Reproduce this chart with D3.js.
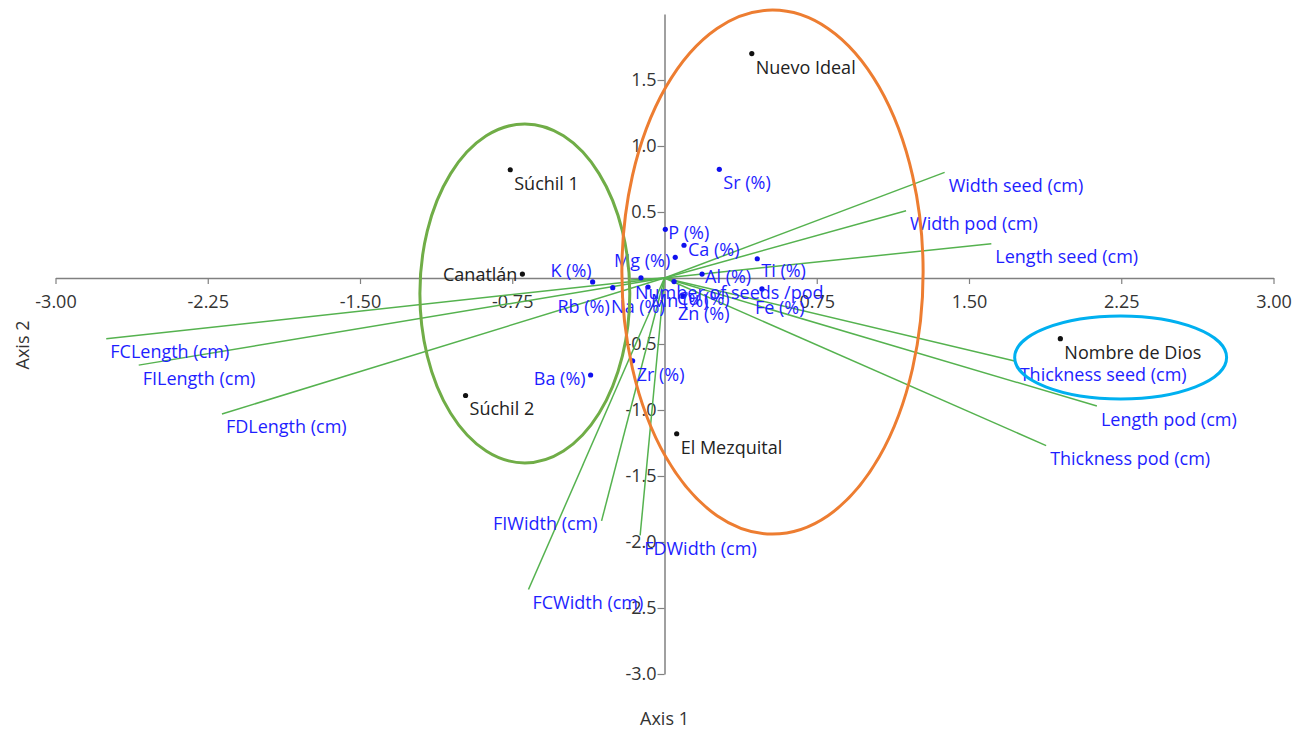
<!DOCTYPE html>
<html>
<head>
<meta charset="utf-8">
<title>Biplot</title>
<script src="https://cdn.jsdelivr.net/npm/d3@7"></script>
<style>
  body { margin: 0; background: #fff; }
  svg text { font-family: "Open Sans", "Noto Sans", sans-serif; }
</style>
</head>
<body>
<script>
// populations (black points)
var sites = ["Nuevo Ideal", "Súchil 1", "Canatlán", "Súchil 2", "El Mezquital", "Nombre de Dios"];
var siteAxis1 = [0.43, -0.76, -0.70, -0.98, 0.06, 1.95];
var siteAxis2 = [1.70, 0.82, 0.03, -0.89, -1.18, -0.46];

// elements (blue points)
var elements = ["Sr (%)", "P (%)", "Ca (%)", "Mg (%)", "Ti (%)", "Al (%)", "K (%)", "Rb (%)", "Na (%)", "Mn (%)", "Cu (%)", "Zn (%)", "Fe (%)", "Ba (%)", "Zr (%)"];
var elemAxis1 = [0.27, 0.004, 0.096, 0.053, 0.457, 0.185, -0.354, -0.255, -0.116, -0.081, 0.047, 0.091, 0.48, -0.364, -0.157];
var elemAxis2 = [0.823, 0.369, 0.248, 0.157, 0.146, 0.03, -0.03, -0.073, 0.002, -0.068, -0.027, -0.136, -0.083, -0.735, -0.627];

// morphological traits (green vectors)
var traits = ["Width seed (cm)", "Width pod (cm)", "Length seed (cm)", "Thickness seed (cm)", "Length pod (cm)", "Thickness pod (cm)",
              "FCLength (cm)", "FILength (cm)", "FDLength (cm)", "FIWidth (cm)", "FDWidth (cm)", "FCWidth (cm)", "Number of seeds /pod"];
var traitAxis1 = [1.38, 1.19, 1.61, 1.73, 2.13, 1.88, -2.75, -2.59, -2.18, -0.31, -0.12, -0.67, -0.165];
var traitAxis2 = [0.80, 0.51, 0.26, -0.63, -0.97, -1.27, -0.46, -0.66, -1.03, -1.84, -1.95, -2.36, -0.015];

// tick labels
var xTicks = [-3, -2.25, -1.5, -0.75, 0.75, 1.5, 2.25, 3];
var yTicks = [1.5, 1, 0.5, -0.5, -1, -1.5, -2, -2.5, -3];

// group ellipses (data units)
var groupCx = [-0.688, 0.532, 2.247];
var groupCy = [-0.117, 0.045, -0.602];
var groupRx = [0.517, 0.742, 0.522];
var groupRy = [1.284, 1.985, 0.314];
var groupColors = ["#70ad47", "#ed7d31", "#00b0f0"];

// label placement (px offsets from the point / vector end)
var siteLabelPos = { "Canatlán": [-5, 0, "end"] };
var elemLabelPos = {
  "Sr (%)": [4, 13], "P (%)": [3, 3], "Ca (%)": [4, 4], "Mg (%)": [-5, 3, "end"],
  "Ti (%)": [4, 11], "Al (%)": [3, 2], "K (%)": [-1, -12, "end"], "Rb (%)": [-3, 18, "end"],
  "Na (%)": [-3, 28, "middle"], "Mn (%)": [3, 13], "Cu (%)": [3, 16], "Zn (%)": [-5, 17],
  "Fe (%)": [-7, 18], "Ba (%)": [-5, 3, "end"], "Zr (%)": [4, 13]
};
var traitLabelPos = { "FIWidth (cm)": [-4, 2, "end"] };

var width = 1302, height = 731;
var svg = d3.select("body").append("svg").attr("width", width).attr("height", height);

var x = d3.scaleLinear().domain([-3, 3]).range([55.5, 1273.5]);
var y = d3.scaleLinear().domain([-3, 2]).range([674, 14]);

// axes through origin
var xAxis = d3.axisBottom(x).tickValues(xTicks).tickFormat(function (d) { return d.toFixed(2); })
  .tickSizeInner(6).tickSizeOuter(0).tickPadding(11);
var yAxis = d3.axisLeft(y).tickValues(yTicks).tickFormat(function (d) { return d.toFixed(1); })
  .tickSizeInner(7).tickSizeOuter(0).tickPadding(1);

var gx = svg.append("g").attr("transform", "translate(0," + y(0) + ")").call(xAxis);
var gy = svg.append("g").attr("transform", "translate(" + x(0) + ",0)").call(yAxis);
[gx, gy].forEach(function (g) {
  g.select(".domain").attr("stroke", "#808080").attr("stroke-width", 1.5);
  g.selectAll(".tick line").attr("stroke", "#808080").attr("stroke-width", 1.2);
  g.selectAll(".tick text").attr("fill", "#333").style("font-size", "18px").style("font-family", "'Open Sans', sans-serif");
});

// vectors
svg.selectAll(".vec").data(traits).enter().append("line")
  .attr("x1", x(0)).attr("y1", y(0))
  .attr("x2", function (d, i) { return x(traitAxis1[i]); })
  .attr("y2", function (d, i) { return y(traitAxis2[i]); })
  .attr("stroke", "#55b24f").attr("stroke-width", 1.5);

// element points
svg.selectAll(".edot").data(elements).enter().append("circle")
  .attr("cx", function (d, i) { return x(elemAxis1[i]); })
  .attr("cy", function (d, i) { return y(elemAxis2[i]); })
  .attr("r", 2.6).attr("fill", "#1010ee");

// site points
svg.selectAll(".sdot").data(sites).enter().append("circle")
  .attr("cx", function (d, i) { return x(siteAxis1[i]); })
  .attr("cy", function (d, i) { return y(siteAxis2[i]); })
  .attr("r", 2.6).attr("fill", "#111");

function addLabels(names, ax1, ax2, pos, def, color) {
  svg.selectAll(null).data(names).enter().append("text")
    .attr("x", function (d, i) { var p = pos[d] || def; return x(ax1[i]) + p[0]; })
    .attr("y", function (d, i) { var p = pos[d] || def; return y(ax2[i]) + p[1]; })
    .attr("text-anchor", function (d) { var p = pos[d] || def; return p[2] || "start"; })
    .attr("dominant-baseline", "central")
    .style("font-size", "18px")
    .attr("fill", color)
    .text(function (d) { return d; });
}
addLabels(traits, traitAxis1, traitAxis2, traitLabelPos, [4, 12.5], "#1e1eff");
addLabels(elements, elemAxis1, elemAxis2, elemLabelPos, [4, 12], "#1e1eff");
addLabels(sites, siteAxis1, siteAxis2, siteLabelPos, [4, 13], "#222");

// group ellipses
svg.selectAll(".grp").data(groupColors).enter().append("ellipse")
  .attr("cx", function (d, i) { return x(groupCx[i]); })
  .attr("cy", function (d, i) { return y(groupCy[i]); })
  .attr("rx", function (d, i) { return x(groupRx[i]) - x(0); })
  .attr("ry", function (d, i) { return y(0) - y(groupRy[i]); })
  .attr("fill", "none").attr("stroke", function (d) { return d; }).attr("stroke-width", 3);

// axis titles
svg.append("text").attr("x", x(0)).attr("y", 718).attr("text-anchor", "middle")
  .attr("dominant-baseline", "central").style("font-size", "18px").attr("fill", "#333").text("Axis 1");
svg.append("text").attr("transform", "translate(22,345) rotate(-90)").attr("text-anchor", "middle")
  .attr("dominant-baseline", "central").style("font-size", "18px").attr("fill", "#333").text("Axis 2");
</script>
</body>
</html>
